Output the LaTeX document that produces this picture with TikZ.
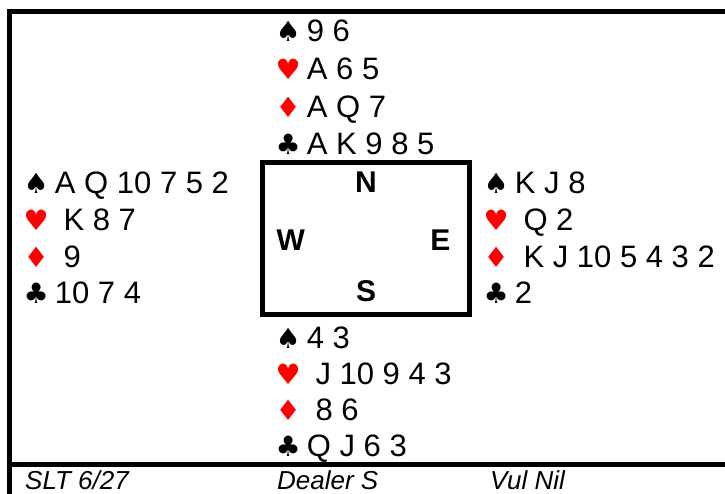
\documentclass[tikz,border=0pt]{standalone}
\usepackage{fontspec}
\setmainfont{Liberation Sans}
\newfontfamily\suitfont{DejaVu Sans}
\usetikzlibrary{positioning}

\newcommand{\spadesym}{{\suitfont\fontsize{28}{28}\selectfont\char"2660\kern-2.5pt}}
\newcommand{\heartsym}{{\color{red}\suitfont\fontsize{28}{28}\selectfont\char"2665\kern-2.5pt}}
\newcommand{\diamsym}{{\color{red}\suitfont\fontsize{28}{28}\selectfont\char"2666\kern-2.5pt}}
\newcommand{\clubsym}{{\suitfont\fontsize{28}{28}\selectfont\char"2663\kern-2.5pt}}

\begin{document}
\begin{tikzpicture}[
    x=1pt, y=-1pt,
    hand/.style = {align=left, inner sep=0pt, anchor=north west, font=\fontsize{31}{36.6}\selectfont},
    seat/.style = {inner sep=0pt, font=\fontsize{30}{30}\selectfont\bfseries},
    compass/.style = {draw, line width=4.5pt, outer sep=0pt, minimum width=207pt, minimum height=152pt},
    frame/.style = {line width=4.5pt},
    footer/.style = {inner sep=0pt, anchor=base west, font=\fontsize{26}{26}\selectfont\itshape}
  ]
    \useasboundingbox (0,0) rectangle (725,494);

    % outer frame
    \draw[frame] (7.25,11.5) -- (725,11.5);
    \draw[frame] (9.5,9.25) -- (9.5,494);
    \draw[frame] (7.25,464.5) -- (725,464.5);

    % table in the middle
    \node[compass] (box) at (366,238.5) {};
    \node[seat, below=9.5pt of box.north] (N) {N};
    \node[seat, above=12.5pt of box.south] (S) {S};
    \node[seat, right=14pt of box.west, yshift=-1.5pt] (W) {W};
    \node[seat, left=19pt of box.east, yshift=-1.5pt] (E) {E};

    % the four hands
    \node[hand, font=\fontsize{31}{37.7}\selectfont] (north) at (275.5,20)
      {\spadesym\ 9 6\\ \heartsym\ A 6 5\\ \diamsym\ A Q 7\\ \clubsym\ A K 9 8 5};
    \node[hand] (west) at (23.5,172)
      {\spadesym\ A Q 10 7 5 2\\ \heartsym\ \ K 8 7\\ \diamsym\ \ 9\\ \clubsym\ 10 7 4};
    \node[hand] (east) at (483.5,172)
      {\spadesym\ K J 8\\ \heartsym\ \ Q 2\\ \diamsym\ \ K J 10 5 4 3 2\\ \clubsym\ 2};
    \node[hand, font=\fontsize{31}{36}\selectfont] (south) at (275.5,327)
      {\spadesym\ 4 3\\ \heartsym\ \ J 10 9 4 3\\ \diamsym\ \ 8 6\\ \clubsym\ Q J 6 3};

    % bottom line
    \node[footer] (event) at (25,489) {SLT 6/27};
    \node[footer] (dealer) at (277,489) {Dealer S};
    \node[footer] (vul) at (490,489) {Vul Nil};
\end{tikzpicture}
\end{document}
